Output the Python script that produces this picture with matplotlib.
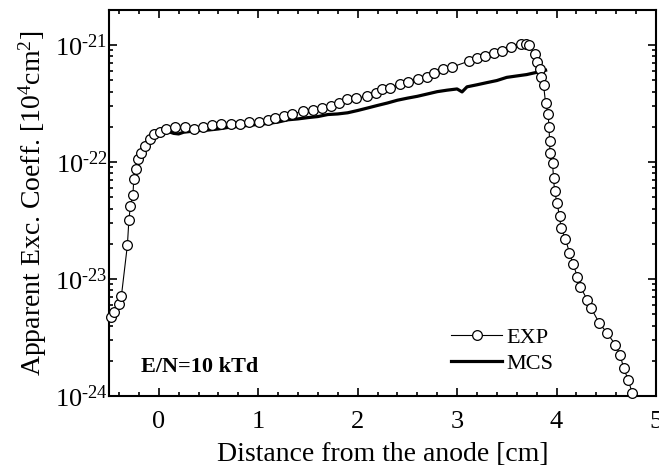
#!/usr/bin/env python3
"""Apparent excitation coefficient vs distance from the anode (EXP vs MCS)."""

import math

import matplotlib

matplotlib.use("Agg")
import matplotlib.pyplot as plt
from matplotlib.ticker import FixedLocator, FuncFormatter, LogLocator, MultipleLocator

plt.rcParams["font.family"] = ["Liberation Serif", "DejaVu Serif"]
plt.rcParams["mathtext.fontset"] = "custom"
plt.rcParams["mathtext.rm"] = "Liberation Serif"
plt.rcParams["mathtext.it"] = "Liberation Serif:italic"

# measured profile (open circles)
exp_x = [
    -0.48, -0.45, -0.40, -0.375, -0.315, -0.30, -0.285, -0.26, -0.25, -0.225,
    -0.21, -0.175, -0.14, -0.09, -0.05, 0.01, 0.07, 0.16, 0.26, 0.35,
    0.45, 0.54, 0.63, 0.73, 0.82, 0.91, 1.01, 1.10, 1.17, 1.26,
    1.34, 1.45, 1.55, 1.64, 1.73, 1.81, 1.89, 1.98, 2.09, 2.18,
    2.25, 2.33, 2.43, 2.51, 2.61, 2.70, 2.77, 2.86, 2.95, 3.12,
    3.20, 3.28, 3.37, 3.45, 3.54, 3.64, 3.69, 3.72, 3.78, 3.80,
    3.83, 3.84, 3.87, 3.89, 3.915, 3.925, 3.93, 3.935, 3.96, 3.97,
    3.98, 4.005, 4.03, 4.045, 4.09, 4.13, 4.165, 4.21, 4.24, 4.31,
    4.35, 4.43, 4.51, 4.59, 4.64, 4.675, 4.72, 4.76,
]
exp_y = [
    4.7e-24, 5.2e-24, 6.1e-24, 7.2e-24, 1.95e-23, 3.2e-23, 4.2e-23, 5.2e-23, 7.2e-23, 8.7e-23,
    1.07e-22, 1.2e-22, 1.38e-22, 1.56e-22, 1.73e-22, 1.82e-22, 1.9e-22, 1.98e-22, 1.98e-22, 1.9e-22,
    2.0e-22, 2.07e-22, 2.1e-22, 2.13e-22, 2.13e-22, 2.2e-22, 2.2e-22, 2.28e-22, 2.4e-22, 2.47e-22,
    2.57e-22, 2.72e-22, 2.78e-22, 2.9e-22, 3.0e-22, 3.17e-22, 3.43e-22, 3.5e-22, 3.66e-22, 3.86e-22,
    4.18e-22, 4.3e-22, 4.64e-22, 4.85e-22, 5.1e-22, 5.36e-22, 5.72e-22, 6.2e-22, 6.5e-22, 7.3e-22,
    7.7e-22, 8.1e-22, 8.5e-22, 8.9e-22, 9.7e-22, 1.03e-21, 1.02e-21, 1.0e-21, 8.4e-22, 7.2e-22,
    6.2e-22, 5.36e-22, 4.55e-22, 3.19e-22, 2.57e-22, 1.99e-22, 1.5e-22, 1.2e-22, 9.8e-23, 7.3e-23,
    5.7e-23, 4.45e-23, 3.45e-23, 2.74e-23, 2.2e-23, 1.68e-23, 1.35e-23, 1.05e-23, 8.6e-24, 6.6e-24,
    5.6e-24, 4.2e-24, 3.45e-24, 2.75e-24, 2.24e-24, 1.73e-24, 1.38e-24, 1.07e-24,
]

# Monte Carlo simulation (thick line)
mcs_x = [
    -0.05, 0.0, 0.05, 0.1, 0.15, 0.2, 0.25, 0.3, 0.4, 0.5,
    0.6, 0.7, 0.8, 0.9, 1.0, 1.1, 1.2, 1.3, 1.4, 1.5,
    1.6, 1.7, 1.8, 1.9, 2.0, 2.1, 2.2, 2.3, 2.4, 2.5,
    2.6, 2.7, 2.8, 2.9, 3.0, 3.05, 3.1, 3.2, 3.3, 3.4,
    3.5, 3.6, 3.7, 3.8, 3.89,
]
mcs_y = [
    1.70e-22, 1.78e-22, 1.80e-22, 1.82e-22, 1.76e-22, 1.74e-22, 1.80e-22, 1.82e-22, 1.86e-22, 1.88e-22,
    1.92e-22, 1.98e-22, 2.02e-22, 2.06e-22, 2.10e-22, 2.14e-22, 2.20e-22, 2.30e-22, 2.34e-22, 2.40e-22,
    2.45e-22, 2.55e-22, 2.58e-22, 2.64e-22, 2.76e-22, 2.90e-22, 3.05e-22, 3.20e-22, 3.38e-22, 3.52e-22,
    3.65e-22, 3.82e-22, 4.00e-22, 4.12e-22, 4.22e-22, 3.98e-22, 4.40e-22, 4.58e-22, 4.78e-22, 4.98e-22,
    5.30e-22, 5.45e-22, 5.60e-22, 5.85e-22, 6.10e-22,
]

x_ticks = [0, 1, 2, 3, 4, 5]
y_ticks = [1e-24, 1e-23, 1e-22, 1e-21]


def log_label(v, _pos):
    exp = int(round(math.log10(v)))
    return r"10$^{\text{" + str(exp) + "}}$"


fig = plt.figure(figsize=(6.59, 4.72), dpi=100)
ax = fig.add_axes([0.1654, 0.161, 0.83, 0.818])

ax.plot(
    exp_x, exp_y, color="black", linewidth=0.8, marker="o", markersize=7,
    markerfacecolor="white", markeredgecolor="black", markeredgewidth=0.9,
    label="EXP", clip_on=False, zorder=3,
)
ax.plot(mcs_x, mcs_y, color="black", linewidth=2.3, label="MCS", zorder=2)

ax.set_yscale("log")
ax.set_xlim(-0.5, 5)
ax.set_ylim(1e-24, 2e-21)

ax.xaxis.set_major_locator(FixedLocator(x_ticks))
ax.xaxis.set_minor_locator(MultipleLocator(0.2))
ax.yaxis.set_major_locator(FixedLocator(y_ticks))
ax.yaxis.set_minor_locator(LogLocator(base=10, subs=range(2, 10), numticks=20))
ax.yaxis.set_major_formatter(FuncFormatter(log_label))
ax.yaxis.set_minor_formatter(FuncFormatter(lambda v, p: ""))

ax.tick_params(which="both", direction="in", top=True, right=True, width=1.2, labelsize=19)
ax.tick_params(which="major", length=6)
ax.tick_params(which="minor", length=3)
ax.tick_params(axis="x", pad=11)
ax.tick_params(axis="y", pad=1)
for sp in ax.spines.values():
    sp.set_linewidth(1.5)

ax.set_xlabel("Distance from the anode [cm]", fontsize=20, labelpad=6)
ax.set_ylabel(r"Apparent Exc. Coeff. [10$^{\mathregular{4}}$cm$^{\mathregular{2}}$]", fontsize=20, labelpad=4)

ax.text(0.165, 0.075, "E/N=10 kTd", transform=ax.transAxes, fontsize=16,
        fontweight="bold", ha="center", va="center")

ax.legend(
    loc="lower right", bbox_to_anchor=(0.829, 0.034), frameon=False, fontsize=16,
    handlelength=2.3, handletextpad=0.2, borderaxespad=0, labelspacing=0.25,
)

fig.savefig("out.png", dpi=100)
